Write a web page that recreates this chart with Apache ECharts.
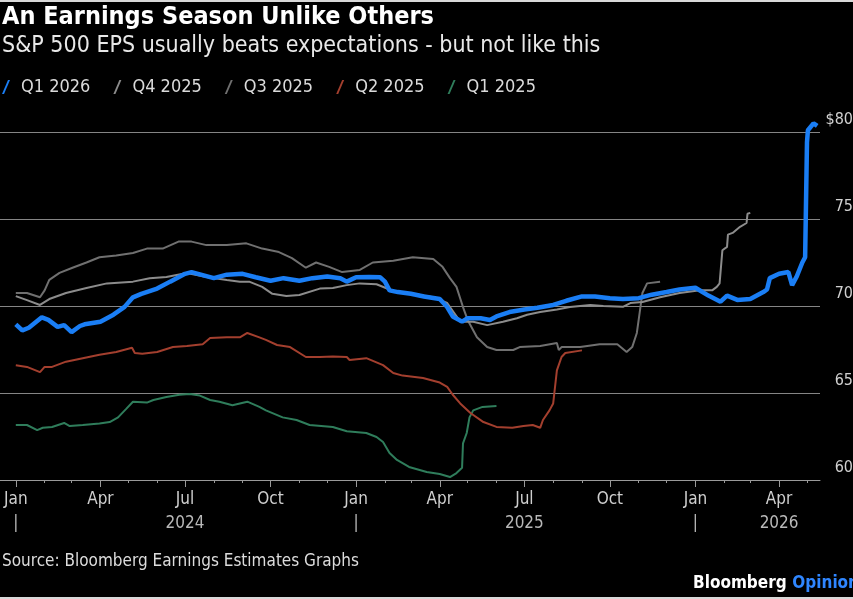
<!DOCTYPE html>
<html><head><meta charset="utf-8">
<script src="https://cdn.jsdelivr.net/npm/echarts@6/dist/echarts.min.js"></script>
<style>html,body{margin:0;padding:0;background:#000;}#c{width:853px;height:599px;}</style>
</head><body><div id="c"></div><script>
const FONT = '"DejaVu Sans Condensed", "DejaVu Sans", sans-serif';

const seriesNames = ['Q1 2026', 'Q4 2025', 'Q3 2025', 'Q2 2025', 'Q1 2025'];
const seriesColors = ['#1a7ef5', '#8c8c8c', '#707070', '#a33f2e', '#2f7d5b'];

const q1_2026 = [['2024-01-01',68.95],['2024-01-08',68.6],['2024-01-15',68.75],['2024-01-29',69.35],['2024-02-05',69.2],['2024-02-15',68.8],['2024-02-22',68.9],['2024-03-01',68.5],['2024-03-10',68.85],['2024-03-15',68.95],['2024-04-01',69.1],['2024-04-15',69.5],['2024-04-27',69.95],['2024-05-06',70.5],['2024-05-15',70.7],['2024-06-01',71.0],['2024-06-15',71.4],['2024-07-01',71.85],['2024-07-08',71.95],['2024-07-15',71.85],['2024-08-01',71.6],['2024-08-15',71.8],['2024-09-01',71.85],['2024-09-15',71.65],['2024-10-01',71.45],['2024-10-15',71.6],['2024-11-01',71.45],['2024-11-15',71.6],['2024-12-01',71.7],['2024-12-15',71.6],['2024-12-22',71.4],['2025-01-01',71.65],['2025-01-15',71.67],['2025-01-27',71.65],['2025-02-01',71.4],['2025-02-06',70.9],['2025-02-15',70.8],['2025-03-01',70.7],['2025-03-15',70.55],['2025-04-01',70.4],['2025-04-09',69.94],['2025-04-15',69.4],['2025-04-25',69.1],['2025-05-01',69.3],['2025-05-15',69.3],['2025-05-25',69.2],['2025-06-01',69.4],['2025-06-15',69.65],['2025-07-01',69.8],['2025-07-15',69.9],['2025-08-01',70.06],['2025-08-15',70.3],['2025-09-01',70.55],['2025-09-15',70.55],['2025-10-01',70.45],['2025-10-15',70.4],['2025-11-01',70.45],['2025-11-15',70.65],['2025-12-01',70.8],['2025-12-15',70.95],['2026-01-01',71.05],['2026-01-15',70.6],['2026-01-28',70.25],['2026-02-04',70.6],['2026-02-15',70.35],['2026-03-01',70.4],['2026-03-15',70.8],['2026-03-19',70.95],['2026-03-22',71.6],['2026-04-01',71.85],['2026-04-11',71.95],['2026-04-15',71.2],['2026-04-20',71.7],['2026-04-26',72.5],['2026-04-29',72.8],['2026-05-01',79.4],['2026-05-02',80.1],['2026-05-08',80.5],['2026-05-12',80.35]];

const q4_2025 = [['2024-01-01',70.57],['2024-01-13',70.34],['2024-01-27',70.06],['2024-02-06',70.4],['2024-02-24',70.75],['2024-03-17',71.03],['2024-04-08',71.3],['2024-05-06',71.4],['2024-05-24',71.6],['2024-06-11',71.67],['2024-07-03',71.9],['2024-07-24',71.67],['2024-08-15',71.5],['2024-08-29',71.4],['2024-09-08',71.4],['2024-09-22',71.1],['2024-10-03',70.7],['2024-10-18',70.57],['2024-11-01',70.63],['2024-11-23',71.0],['2024-12-07',71.03],['2024-12-22',71.2],['2025-01-05',71.3],['2025-01-23',71.25],['2025-02-10',70.86],['2025-03-03',70.7],['2025-03-25',70.5],['2025-04-09',70.17],['2025-04-23',69.1],['2025-05-07',69.1],['2025-05-22',68.9],['2025-06-08',69.1],['2025-06-23',69.3],['2025-07-04',69.5],['2025-07-18',69.66],['2025-08-05',69.8],['2025-08-19',69.94],['2025-09-10',70.06],['2025-09-24',70.0],['2025-10-15',69.95],['2025-10-23',70.17],['2025-11-05',70.23],['2025-11-24',70.5],['2025-12-15',70.75],['2026-01-06',70.9],['2026-01-19',70.9],['2026-01-24',71.1],['2026-01-27',71.3],['2026-01-30',73.2],['2026-02-04',73.4],['2026-02-05',74.1],['2026-02-10',74.2],['2026-02-18',74.55],['2026-02-25',74.77],['2026-02-26',75.3],['2026-03-01',75.35]];

const q3_2025 = [['2024-01-01',70.75],['2024-01-13',70.75],['2024-01-27',70.5],['2024-02-01',70.9],['2024-02-06',71.5],['2024-02-17',71.9],['2024-03-02',72.2],['2024-03-17',72.5],['2024-03-31',72.8],['2024-04-18',72.9],['2024-05-06',73.05],['2024-05-21',73.3],['2024-06-07',73.3],['2024-06-24',73.7],['2024-07-08',73.7],['2024-07-24',73.5],['2024-08-15',73.5],['2024-09-05',73.6],['2024-09-22',73.3],['2024-10-10',73.1],['2024-10-24',72.75],['2024-11-08',72.2],['2024-11-19',72.5],['2024-12-03',72.25],['2024-12-17',71.95],['2025-01-05',72.07],['2025-01-19',72.5],['2025-02-10',72.6],['2025-03-03',72.8],['2025-03-25',72.7],['2025-04-04',72.25],['2025-04-12',71.6],['2025-04-19',71.1],['2025-04-26',69.94],['2025-05-01',69.2],['2025-05-11',68.2],['2025-05-22',67.64],['2025-06-01',67.47],['2025-06-19',67.47],['2025-06-26',67.64],['2025-07-18',67.7],['2025-08-05',67.87],['2025-08-07',67.47],['2025-08-10',67.64],['2025-08-30',67.64],['2025-09-20',67.8],['2025-10-09',67.8],['2025-10-19',67.36],['2025-10-25',67.64],['2025-10-30',68.45],['2025-11-02',69.6],['2025-11-05',70.75],['2025-11-10',71.3],['2025-11-24',71.4]];

const q2_2025 = [['2024-01-01',66.6],['2024-01-13',66.5],['2024-01-27',66.2],['2024-02-01',66.5],['2024-02-09',66.5],['2024-02-24',66.8],['2024-03-13',67.0],['2024-03-31',67.2],['2024-04-18',67.36],['2024-05-05',67.6],['2024-05-08',67.3],['2024-05-16',67.25],['2024-06-01',67.36],['2024-06-18',67.64],['2024-07-03',67.7],['2024-07-20',67.8],['2024-07-28',68.16],['2024-08-15',68.2],['2024-08-29',68.2],['2024-09-06',68.45],['2024-09-19',68.2],['2024-09-26',68.05],['2024-10-08',67.76],['2024-10-22',67.64],['2024-11-08',67.07],['2024-11-23',67.07],['2024-12-07',67.1],['2024-12-22',67.07],['2024-12-25',66.9],['2025-01-12',67.0],['2025-01-30',66.6],['2025-02-10',66.15],['2025-02-20',66.0],['2025-03-14',65.86],['2025-04-01',65.6],['2025-04-09',65.35],['2025-04-15',64.9],['2025-04-23',64.4],['2025-05-04',63.85],['2025-05-18',63.33],['2025-06-01',63.05],['2025-06-18',63.0],['2025-06-30',63.1],['2025-07-10',63.16],['2025-07-18',63.0],['2025-07-21',63.45],['2025-07-28',64.0],['2025-08-01',64.4],['2025-08-03',65.35],['2025-08-05',66.3],['2025-08-10',67.07],['2025-08-14',67.3],['2025-09-01',67.45]];

const q1_2025 = [['2024-01-01',63.16],['2024-01-13',63.16],['2024-01-24',62.87],['2024-01-30',63.0],['2024-02-09',63.05],['2024-02-22',63.28],['2024-02-28',63.1],['2024-03-13',63.16],['2024-03-31',63.25],['2024-04-11',63.33],['2024-04-20',63.6],['2024-04-29',64.1],['2024-05-06',64.5],['2024-05-21',64.45],['2024-05-28',64.6],['2024-06-11',64.77],['2024-06-25',64.9],['2024-07-06',64.94],['2024-07-17',64.85],['2024-07-28',64.6],['2024-08-07',64.5],['2024-08-21',64.3],['2024-09-06',64.5],['2024-09-19',64.2],['2024-09-26',64.0],['2024-10-14',63.6],['2024-10-29',63.45],['2024-11-12',63.16],['2024-12-07',63.05],['2024-12-22',62.8],['2025-01-12',62.7],['2025-01-23',62.47],['2025-01-30',62.18],['2025-02-06',61.55],['2025-02-14',61.15],['2025-02-27',60.75],['2025-03-18',60.46],['2025-04-01',60.34],['2025-04-12',60.17],['2025-04-19',60.4],['2025-04-25',60.7],['2025-04-26',62.1],['2025-04-30',62.7],['2025-05-03',63.6],['2025-05-07',64.0],['2025-05-17',64.2],['2025-06-01',64.25]];

const seriesData = [q1_2026, q4_2025, q3_2025, q2_2025, q1_2025];

const quarterTicks = ['2024-01-01','2024-04-01','2024-07-01','2024-10-01','2025-01-01','2025-04-01','2025-07-01','2025-10-01','2026-01-01','2026-04-01'];
const quarterLabels = ['Jan','Apr','Jul','Oct','Jan','Apr','Jul','Oct','Jan','Apr'];
const yearLabels = ['|','','2024','','|','','2025','','|','2026'];
const monthTicks = ['2024-02-01','2024-03-01','2024-05-01','2024-06-01','2024-08-01','2024-09-01','2024-11-01','2024-12-01','2025-02-01','2025-03-01','2025-05-01','2025-06-01','2025-08-01','2025-09-01','2025-11-01','2025-12-01','2026-02-01','2026-03-01','2026-05-01'];
const yTickLabels = {60:'60', 65:'65', 70:'70', 75:'75', 80:'$80'};

function ts(s){ const p = s.split('-').map(Number); return Date.UTC(p[0], p[1]-1, p[2]); }
const qTs = quarterTicks.map(ts);
const mTs = monthTicks.map(ts);
const xMin = ts('2023-12-15'), xMax = ts('2026-05-15');

const chart = echarts.init(document.getElementById('c'));
const widths = [4.5, 2, 2, 2, 2];
chart.setOption({
  backgroundColor: '#000',
  animation: false,
  textStyle: { fontFamily: FONT },
  graphic: [
    { type: 'rect', left: 0, top: 0, shape: { width: 853, height: 2 }, style: { fill: '#d8d8d8' }, silent: true },
    { type: 'rect', left: 0, top: 597, shape: { width: 853, height: 2 }, style: { fill: '#d8d8d8' }, silent: true }
  ],
  title: [
    { text: 'An Earnings Season Unlike Others', left: 2, top: 5, padding: 0,
      textStyle: { color: '#fff', fontSize: 25, fontWeight: 'bold', fontFamily: FONT } },
    { text: 'S&P 500 EPS usually beats expectations - but not like this', left: 2, top: 35, padding: 0,
      textStyle: { color: '#e8e8e8', fontSize: 23, fontWeight: 'normal', fontFamily: FONT } },
    { text: 'Source: Bloomberg Earnings Estimates Graphs', left: 2, top: 553, padding: 0,
      textStyle: { color: '#dcdcdc', fontSize: 17, fontWeight: 'normal', fontFamily: FONT } },
    { text: '{a|Bloomberg} {b|Opinion}', left: 693, top: 575, padding: 0,
      textStyle: { fontFamily: FONT, rich: {
        a: { color: '#fff', fontSize: 17, fontWeight: 'bold', fontFamily: FONT },
        b: { color: '#2f86ff', fontSize: 17, fontWeight: 'bold', fontFamily: FONT } } } }
  ],
  legend: {
    data: seriesNames, left: 2, top: 78, padding: 0,
    itemWidth: 8, itemHeight: 14, itemGap: 23,
    icon: 'path://M6,0 L8,0 L2,14 L0,14 Z',
    textStyle: { color: '#dadada', fontSize: 18, fontFamily: FONT, padding: [0,0,0,6] }
  },
  grid: { left: 0, right: 33, top: 132, bottom: 119, containLabel: false, outerBoundsMode: 'none' },
  xAxis: [
    { type: 'value', min: xMin, max: xMax,
      axisLine: { lineStyle: { color: '#9a9a9a', width: 1 } },
      axisTick: { customValues: qTs, length: 7, lineStyle: { color: '#9a9a9a' } },
      axisLabel: { customValues: qTs, margin: 8, color: '#cfcfcf', fontSize: 17, fontFamily: FONT, lineHeight: 24,
        formatter: function (v) {
          const i = qTs.indexOf(v);
          if (i < 0) return '';
          const yl = yearLabels[i];
          return '{m|' + quarterLabels[i] + '}' + (yl ? '\n{y|' + yl + '}' : '');
        },
        rich: { m: { color: '#cfcfcf', fontSize: 17, fontFamily: FONT, lineHeight: 24 },
                y: { color: '#b8b8b8', fontSize: 17, fontFamily: FONT, lineHeight: 24 } } },
      splitLine: { show: false } },
    { type: 'value', min: xMin, max: xMax, position: 'bottom',
      axisLine: { show: false },
      axisTick: { customValues: mTs, length: 3, lineStyle: { color: '#9a9a9a' } },
      axisLabel: { show: false },
      splitLine: { show: false } }
  ],
  yAxis: { type: 'value', min: 60, max: 80, interval: 5, position: 'right',
    axisLine: { show: false }, axisTick: { show: false },
    splitLine: { lineStyle: { color: '#858585', width: 1 } },
    axisLabel: { color: '#d0d0d0', fontSize: 16, fontFamily: FONT, align: 'right', margin: 33,
      verticalAlign: 'bottom', padding: [0,0,4,0],
      formatter: v => yTickLabels[v] || String(v) } },
  series: seriesNames.map((name, i) => ({
    name, type: 'line', xAxisIndex: 0, showSymbol: false, clip: false,
    z: i === 0 ? 10 : 5 - i,
    color: seriesColors[i],
    lineStyle: { color: seriesColors[i], width: widths[i] },
    data: seriesData[i].map(d => [ts(d[0]), d[1]])
  })).reverse()
});
</script></body></html>
